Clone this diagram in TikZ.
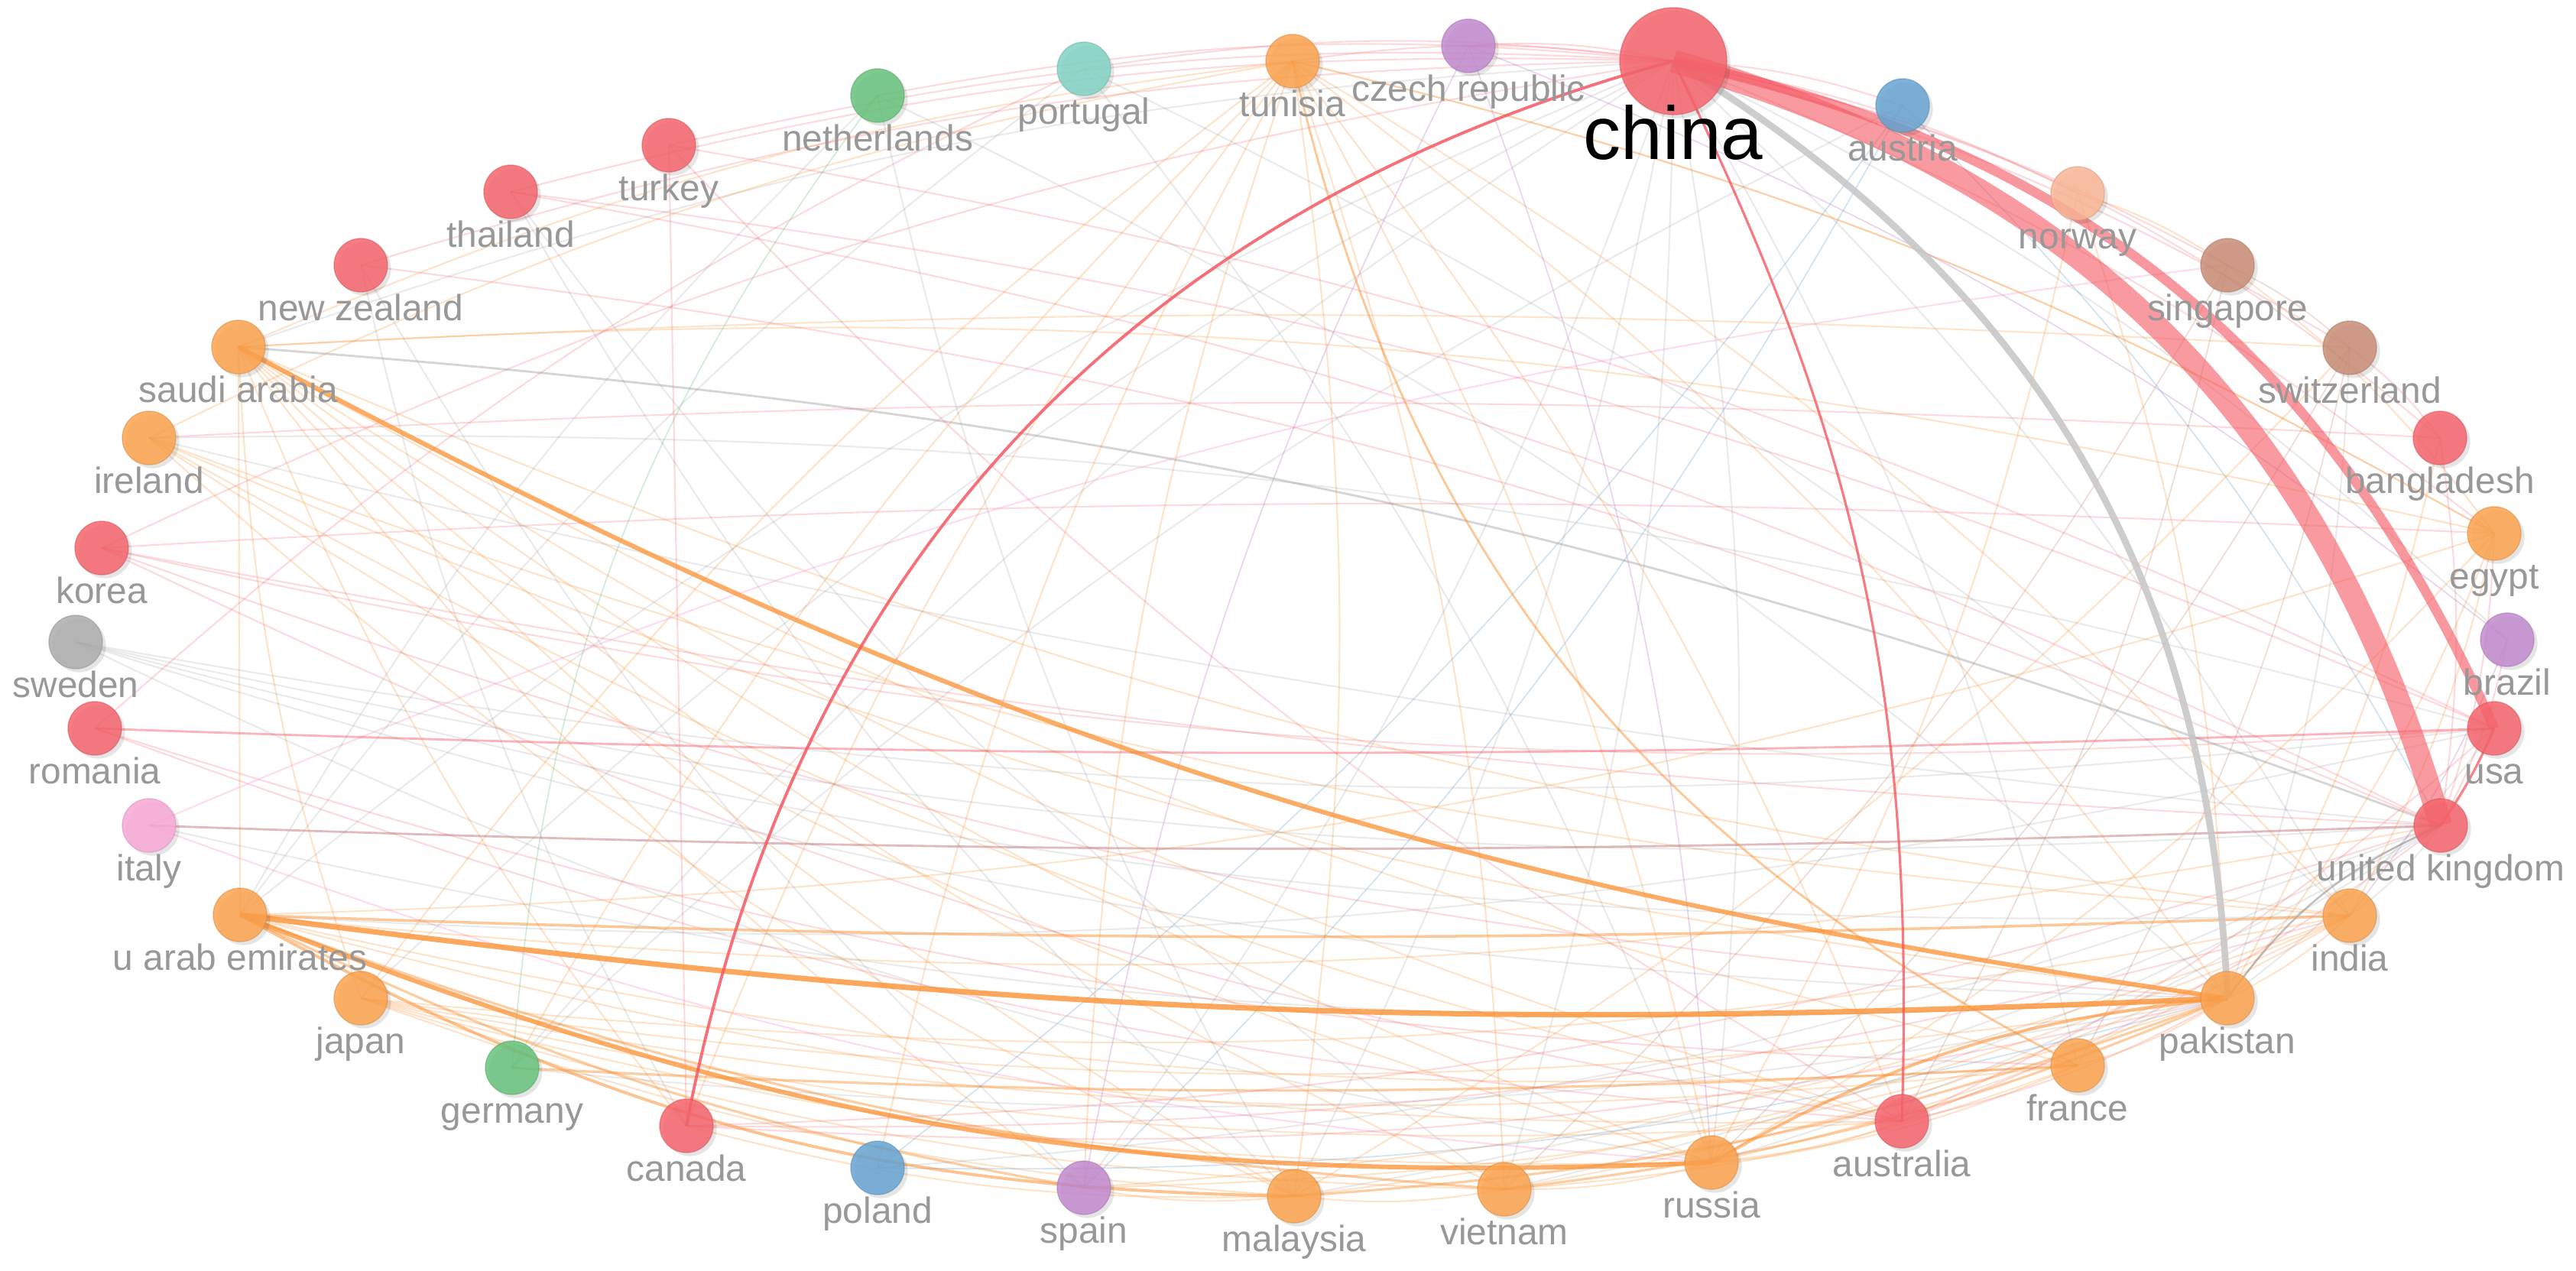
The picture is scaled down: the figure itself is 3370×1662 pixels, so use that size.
\documentclass[tikz,border=0pt]{standalone}
\usepackage{fontspec}
\setmainfont{Liberation Sans}
\usetikzlibrary{calc,shadows}
\pgfdeclarelayer{bg}
\pgfdeclarelayer{edges}
\pgfsetlayers{bg,edges,main}
\definecolor{cred}{RGB}{246,100,108}
\definecolor{corange}{RGB}{252,163,78}
\definecolor{cpurple}{RGB}{194,138,206}
\definecolor{cteal}{RGB}{130,212,196}
\definecolor{cgreen}{RGB}{104,194,124}
\definecolor{cgray}{RGB}{172,172,172}
\definecolor{cpink}{RGB}{250,168,214}
\definecolor{cblue}{RGB}{104,164,210}
\definecolor{cbrown}{RGB}{200,142,118}
\definecolor{csalmon}{RGB}{250,182,150}
\definecolor{labgray}{RGB}{152,152,152}
\definecolor{ered}{RGB}{245,88,98}
\definecolor{eorange}{RGB}{252,145,50}
\definecolor{egray}{RGB}{150,150,150}
\newcommand\lnk[4][8]{%
  \draw[#2] let \p1=($(#4.center)-(#3.center)$), \p2=($(ctr)-(#3.center)$),
    \n1={-sign((\x1/100)*(\y2/100)-(\y1/100)*(\x2/100))*#1}
    in (#3.center) to[bend left=\n1] (#4.center);}
\newcommand\cty[5]{%
  \node[dot, fill=#4, draw=#4!85!black] (#1) at (#2,#3) {};
  \node[lab] (#1-l) at (#2,#3+72) {#5};}
\begin{document}
\begin{tikzpicture}[x=0.01cm,y=-0.01cm,
  dot/.style={circle, inner sep=0pt, minimum size=0.7cm, fill opacity=0.85, draw opacity=0.5, line width=0.4pt,
    drop shadow={shadow xshift=1.3pt, shadow yshift=-1.3pt, fill=black, opacity=0.10}},
  lab/.style={anchor=base, text=labgray, font=\fontsize{13.6}{16}\selectfont, inner sep=0pt},
  fr/.style={draw=ered, draw opacity=0.22, line width=0.6pt},
  fo/.style={draw=eorange, draw opacity=0.25, line width=0.6pt},
  fg/.style={draw=egray, draw opacity=0.2, line width=0.6pt},
  fgn/.style={draw=cgreen, draw opacity=0.3, line width=0.5pt},
  fbl/.style={draw=cblue, draw opacity=0.3, line width=0.5pt},
  fpu/.style={draw=cpurple, draw opacity=0.35, line width=0.5pt},
  fpk/.style={draw=cpink, draw opacity=0.4, line width=0.6pt},
  fbr/.style={draw=cbrown, draw opacity=0.3, line width=0.5pt},
  lo/.style={draw=eorange, draw opacity=0.45, line width=0.9pt},
  lr/.style={draw=ered, draw opacity=0.4, line width=0.8pt},
  lg/.style={draw=egray, draw opacity=0.4, line width=0.8pt}]
\useasboundingbox (0,0) rectangle (3370,1662);
\begin{pgfonlayer}{bg}
\fill[white] (0,0) rectangle (3370,1662);
\end{pgfonlayer}
\coordinate (ctr) at (1690,822);
% nodes
\cty{czech}{1921}{60}{cpurple}{czech republic}
\cty{tunisia}{1691}{80}{corange}{tunisia}
\cty{portugal}{1418}{90}{cteal}{portugal}
\cty{nether}{1148}{125}{cgreen}{netherlands}
\cty{turkey}{875}{190}{cred}{turkey}
\cty{thai}{668}{251}{cred}{thailand}
\cty{nz}{472}{347}{cred}{new zealand}
\cty{saudi}{312}{454}{corange}{saudi arabia}
\cty{ireland}{195}{573}{corange}{ireland}
\cty{korea}{133}{717}{cred}{korea}
\cty{sweden}{99}{840}{cgray}{sweden}
\cty{romania}{124}{953}{cred}{romania}
\cty{italy}{195}{1080}{cpink}{italy}
\cty{uae}{314}{1197}{corange}{u arab emirates}
\cty{japan}{472}{1306}{corange}{japan}
\cty{germany}{670}{1397}{cgreen}{germany}
\cty{canada}{898}{1473}{cred}{canada}
\cty{poland}{1148}{1528}{cblue}{poland}
\cty{spain}{1418}{1554}{cpurple}{spain}
\cty{malaysia}{1693}{1565}{corange}{malaysia}
\cty{vietnam}{1968}{1556}{corange}{vietnam}
\cty{russia}{2239}{1521}{corange}{russia}
\cty{austl}{2488}{1467}{cred}{australia}
\cty{france}{2718}{1394}{corange}{france}
\cty{pak}{2914}{1306}{corange}{pakistan}
\cty{india}{3074}{1198}{corange}{india}
\cty{uk}{3193}{1080}{cred}{united kingdom}
\cty{usa}{3263}{953}{cred}{usa}
\cty{brazil}{3280}{837}{cpurple}{brazil}
\cty{egypt}{3263}{698}{corange}{egypt}
\cty{bangla}{3192}{573}{cred}{bangladesh}
\cty{swiss}{3074}{455}{cbrown}{switzerland}
\cty{singa}{2914}{347}{cbrown}{singapore}
\cty{norway}{2718}{253}{csalmon}{norway}
\cty{austria}{2489}{138}{cblue}{austria}
\node[dot, fill=cred, draw=cred!85!black, minimum size=1.4cm] (china) at (2189,80) {};
\node[anchor=base, inner sep=0pt, font=\fontsize{27.9}{32}\selectfont] (china-l) at (2189,208) {china};
\begin{pgfonlayer}{edges}
% china faint red
\lnk{fr}{china}{tunisia}
\lnk{fr}{china}{czech}
\lnk{fr}{china}{portugal}
\lnk{fr}{china}{nether}
\lnk{fr}{china}{turkey}
\lnk{fr}{china}{thai}
\lnk{fr}{china}{nz}
\lnk{fr}{china}{korea}
\lnk{fr}{china}{austria}
\lnk{fr}{china}{norway}
\lnk{fr}{china}{singa}
\lnk{fr}{china}{swiss}
\lnk[14]{fr}{china}{bangla}
\lnk{fr}{china}{egypt}
% china faint gray
\lnk{fg}{china}{spain}
\lnk{fg}{china}{malaysia}
\lnk{fg}{china}{vietnam}
\lnk{fg}{china}{russia}
\lnk{fg}{china}{japan}
\lnk{fg}{china}{germany}
\lnk{fg}{china}{uae}
\lnk{fg}{china}{india}
\lnk{fg}{china}{france}
\lnk{fg}{china}{brazil}
\lnk{fg}{china}{saudi}
% tunisia
\lnk{fo}{tunisia}{japan}
\lnk{fo}{tunisia}{germany}
\lnk{fo}{tunisia}{canada}
\lnk{fo}{tunisia}{poland}
\lnk{fo}{tunisia}{spain}
\lnk{fo}{tunisia}{malaysia}
\lnk{fo}{tunisia}{vietnam}
\lnk{fo}{tunisia}{russia}
\lnk{fo}{tunisia}{austl}
\lnk{fo}{tunisia}{saudi}
\lnk{fo}{tunisia}{ireland}
\lnk{fo}{tunisia}{pak}
\lnk{fo}{tunisia}{india}
\lnk{fo}{tunisia}{egypt}
% saudi arabia
\lnk[0]{fo}{saudi}{uae}
\lnk[3]{fo}{saudi}{swiss}
\lnk{fo}{saudi}{japan}
\lnk{fo}{saudi}{canada}
\lnk{fo}{saudi}{spain}
\lnk{fo}{saudi}{malaysia}
\lnk{fo}{saudi}{vietnam}
\lnk{fo}{saudi}{russia}
\lnk{fo}{saudi}{france}
\lnk{fo}{saudi}{india}
\lnk{fo}{saudi}{egypt}
\lnk{lg}{saudi}{uk}
\lnk{fo}{saudi}{austl}
% ireland
\lnk[3]{fr}{ireland}{bangla}
\lnk{fo}{ireland}{pak}
\lnk{fo}{ireland}{india}
\lnk[4]{fg}{ireland}{uk}
\lnk{fg}{ireland}{usa}
\lnk{fo}{ireland}{austl}
\lnk{fo}{ireland}{russia}
\lnk{fo}{ireland}{malaysia}
% korea
\lnk[3]{fr}{korea}{egypt}
\lnk[4]{fr}{korea}{uk}
\lnk{fr}{korea}{usa}
\lnk{fr}{korea}{austl}
\lnk{fr}{korea}{pak}
% sweden
\lnk{fg}{sweden}{usa}
\lnk{fg}{sweden}{uk}
\lnk{fg}{sweden}{india}
\lnk{fg}{sweden}{pak}
\lnk{fg}{sweden}{russia}
% romania
\lnk{fr}{romania}{portugal}
\lnk{fr}{romania}{france}
\lnk{fr}{romania}{austl}
% italy
\lnk{fpk}{italy}{singa}
\lnk{fpk}{italy}{russia}
\lnk{fg}{italy}{pak}
% uae
\lnk{lo}{uae}{vietnam}
\lnk{fo}{uae}{france}
\lnk{fo}{uae}{austl}
\lnk{lo}{uae}{spain}
\lnk{fg}{uae}{portugal}
\lnk{fg}{uae}{nether}
\lnk{fo}{uae}{egypt}
\lnk{fg}{uae}{usa}
\lnk{fo}{uae}{uk}
% japan
\lnk{fo}{japan}{pak}
\lnk{fo}{japan}{france}
\lnk{fo}{japan}{austl}
\lnk{fo}{japan}{russia}
\lnk{fo}{japan}{vietnam}
\lnk{fo}{japan}{india}
\lnk{fo}{japan}{malaysia}
% germany
\lnk[16]{fgn}{germany}{nether}
\lnk[3]{lo}{germany}{france}
\lnk{fg}{germany}{pak}
\lnk{fg}{germany}{austria}
% canada
\lnk[0]{fr}{turkey}{canada}
\lnk{fr}{canada}{pak}
\lnk{fr}{canada}{india}
\lnk{fr}{canada}{uk}
\lnk{fo}{canada}{malaysia}
% poland
\lnk{fbl}{poland}{austria}
\lnk{fbl}{poland}{pak}
\lnk{fg}{poland}{uk}
% spain
\lnk{fpu}{czech}{spain}
\lnk{fo}{spain}{pak}
\lnk{fo}{spain}{india}
\lnk{fo}{spain}{malaysia}
% malaysia
\lnk{lo}{malaysia}{pak}
\lnk{fo}{malaysia}{india}
\lnk{fg}{malaysia}{uk}
\lnk{fo}{malaysia}{swiss}
\lnk{fo}{malaysia}{vietnam}
% vietnam
\lnk{lo}{vietnam}{pak}
\lnk{fo}{vietnam}{india}
\lnk{fo}{vietnam}{france}
\lnk{fg}{vietnam}{uk}
\lnk{fo}{vietnam}{russia}
% russia
\lnk{fo}{russia}{india}
\lnk{fo}{russia}{france}
\lnk{fg}{russia}{uk}
\lnk{fo}{russia}{egypt}
\lnk{fo}{russia}{austl}
% australia
\lnk{fr}{austl}{uk}
\lnk{fr}{austl}{pak}
\lnk{fr}{austl}{usa}
% pakistan
\lnk{fo}{pak}{india}
\lnk{fo}{pak}{egypt}
\lnk{fo}{pak}{bangla}
\lnk{fg}{pak}{usa}
\lnk{fg}{pak}{swiss}
\lnk{fo}{pak}{france}
% india, uk
\lnk{fg}{india}{uk}
\lnk{fo}{india}{egypt}
\lnk{fpu}{india}{brazil}
\lnk{fr}{uk}{egypt}
\lnk{fr}{uk}{brazil}
\lnk{fr}{uk}{bangla}
% misc
\lnk{fo}{egypt}{tunisia}
\lnk{fbr}{swiss}{france}
\lnk{fbr}{swiss}{russia}
\lnk{fbr}{singa}{austl}
\lnk{fbr}{singa}{vietnam}
\lnk{fo}{norway}{russia}
\lnk{fo}{norway}{pak}
\lnk{fbl}{austria}{spain}
\lnk{fbl}{austria}{uk}
\lnk{fg}{thai}{malaysia}
\lnk{fr}{thai}{uk}
\lnk{fg}{thai}{vietnam}
\lnk{fr}{thai}{usa}
\lnk{fr}{turkey}{austl}
\lnk{fr}{turkey}{usa}
\lnk{fg}{nz}{spain}
\lnk{fr}{nz}{uk}
\lnk{fg}{nz}{canada}
\lnk{fg}{nether}{malaysia}
\lnk{fg}{nether}{pak}
\lnk{fg}{portugal}{russia}
\lnk{fg}{portugal}{india}
\lnk{fpu}{czech}{brazil}
\lnk{fpu}{czech}{russia}
\lnk{fo}{singa}{egypt}
\lnk{fbr}{singa}{swiss}
\lnk{fr}{swiss}{bangla}
\lnk{fo}{norway}{singa}
% stronger links
\draw[draw=ered, draw opacity=0.45, line width=0.8pt] (romania.center) to[bend right=2] (usa.center);
\draw[draw=ered!50!egray, draw opacity=0.5, line width=0.8pt] (italy.center) to[bend right=2] (uk.center);
\draw[draw=egray, draw opacity=0.6, line width=0.7pt] (pak.center) to[bend left=15] (uk.center);
\draw[draw=eorange, draw opacity=0.5, line width=0.8pt] (tunisia.center) to[bend right=25] (france.center);
\draw[draw=eorange, draw opacity=0.6, line width=1.1pt] (russia.center) to[bend left=12] (pak.center);
\draw[draw=eorange, draw opacity=0.5, line width=1pt] (uae.center) to[bend right=2] (india.center);
\draw[draw=eorange, draw opacity=0.55, line width=1.1pt] (uae.center) to[bend right=14] (malaysia.center);
\draw[draw=eorange, draw opacity=0.75, line width=1.7pt] (uae.center) to[bend right=12] (russia.center);
\draw[draw=eorange, draw opacity=0.8, line width=2pt] (uae.center) to[bend right=5] (pak.center);
\draw[draw=eorange, draw opacity=0.75, line width=1.7pt] (saudi.center) to[bend right=10] (pak.center);
\draw[draw=ered, draw opacity=0.75, line width=0.9pt] (usa.center) to[bend left=5] (uk.center);
\draw[draw=ered, draw opacity=0.8, line width=0.9pt] (china.center) to[bend left=14] (austl.center);
\draw[draw=ered, draw opacity=0.85, line width=1.1pt] (china.center) to[bend right=32] (canada.center);
\draw[draw={rgb,255:red,200;green,200;blue,200}, draw opacity=0.9, line width=2.5pt] (china.center) to[bend left=28] (pak.center);
\draw[draw=ered, draw opacity=0.62, line width=3.6pt] (china.center) to[bend left=27] (usa.center);
\draw[draw=ered, draw opacity=0.6, line width=8.5pt] (china.center) to[bend left=29] (uk.center);
\end{pgfonlayer}
\end{tikzpicture}
\end{document}
